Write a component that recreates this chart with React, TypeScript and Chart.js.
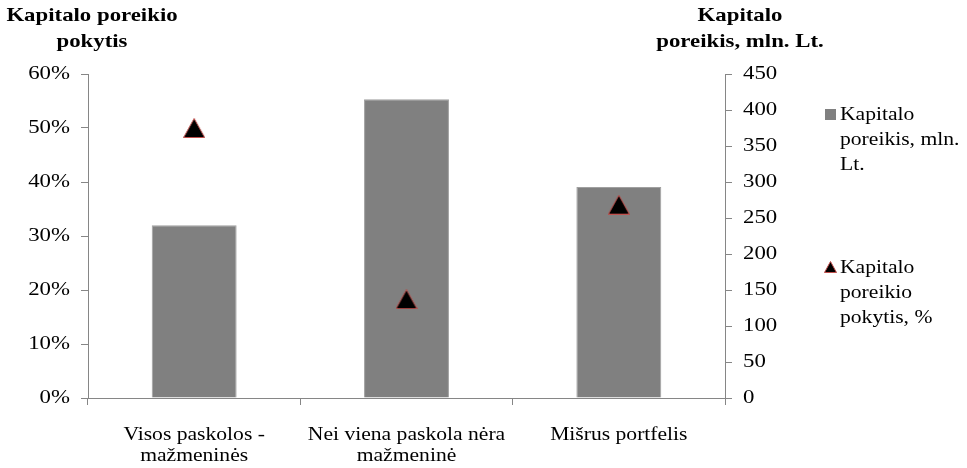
import React, { useEffect, useRef } from "react";
import { Chart, registerables } from "chart.js";

Chart.register(...registerables);

const categories: string[][] = [
  ["Visos paskolos -", "mažmeninės"],
  ["Nei viena paskola nėra", "mažmeninė"],
  ["Mišrus portfelis"],
];
const capitalNeed = [240, 415, 293];
const capitalChange = [50, 18.3, 35.8];
const leftTicks = [0, 10, 20, 30, 40, 50, 60];
const rightTicks = [0, 50, 100, 150, 200, 250, 300, 350, 400, 450];
const barLabel = ["Kapitalo", "poreikis, mln.", "Lt."];
const pointLabel = ["Kapitalo", "poreikio", "pokytis, %"];
const leftTitle = ["Kapitalo poreikio", "pokytis"];
const rightTitle = ["Kapitalo", "poreikis, mln. Lt."];

const FONT = "'Liberation Serif', 'Times New Roman', serif";
const AXIS = "#868686";
const BAR = "#808080";
const TEXT_STRETCH = 1.2;

function makeTriangle(w: number, h: number): HTMLCanvasElement {
  const c = document.createElement("canvas");
  c.width = w;
  c.height = h;
  const ctx = c.getContext("2d")!;
  ctx.beginPath();
  ctx.moveTo(w / 2, 0.5);
  ctx.lineTo(w - 0.5, h - 0.5);
  ctx.lineTo(0.5, h - 0.5);
  ctx.closePath();
  ctx.fillStyle = "#000000";
  ctx.fill();
  ctx.strokeStyle = "#c0504d";
  ctx.lineWidth = 1;
  ctx.stroke();
  return c;
}

// text in the reference is rendered horizontally wider; stretch glyphs only
function stretchText(ctx: any) {
  if (ctx.__stretched) return;
  ctx.__stretched = true;
  const origFill = ctx.fillText.bind(ctx);
  const origMeasure = ctx.measureText.bind(ctx);
  ctx.fillText = (t: string, x: number, y: number) => {
    ctx.save();
    ctx.translate(x, y);
    ctx.scale(TEXT_STRETCH, 1);
    origFill(t, 0, 0);
    ctx.restore();
  };
  ctx.measureText = (t: string) => {
    const m = origMeasure(t);
    return {
      width: m.width * TEXT_STRETCH,
      actualBoundingBoxAscent: m.actualBoundingBoxAscent,
      actualBoundingBoxDescent: m.actualBoundingBoxDescent,
      actualBoundingBoxLeft: m.actualBoundingBoxLeft * TEXT_STRETCH,
      actualBoundingBoxRight: m.actualBoundingBoxRight * TEXT_STRETCH,
    };
  };
}

const overlay = {
  id: "overlay",
  afterDraw(chart: any) {
    const ctx = chart.ctx as CanvasRenderingContext2D;
    ctx.save();
    ctx.fillStyle = "#000";
    ctx.textBaseline = "middle";
    ctx.font = `bold 19px ${FONT}`;
    ctx.textAlign = "center";
    leftTitle.forEach((t, i) => ctx.fillText(t, 92, 16 + i * 26));
    rightTitle.forEach((t, i) => ctx.fillText(t, 740, 16 + i * 26));
    ctx.font = `18px ${FONT}`;
    ctx.textAlign = "left";
    ctx.fillStyle = BAR;
    ctx.fillRect(825, 109, 11, 11);
    ctx.fillStyle = "#000";
    barLabel.forEach((t, i) => ctx.fillText(t, 840, 115 + i * 25));
    const tri = makeTriangle(13, 12);
    ctx.drawImage(tri, 824, 261);
    pointLabel.forEach((t, i) => ctx.fillText(t, 840, 268 + i * 25));
    ctx.restore();
  },
};

export default function App() {
  const ref = useRef<HTMLCanvasElement>(null);
  useEffect(() => {
    if (!ref.current) return;
    stretchText(ref.current.getContext("2d"));
    const tri = makeTriangle(22, 20);
    const chart = new Chart(ref.current, {
      type: "bar",
      data: {
        labels: categories,
        datasets: [
          {
            type: "line",
            label: pointLabel.join(" "),
            data: capitalChange,
            yAxisID: "y",
            showLine: false,
            pointStyle: tri as any,
            pointRadius: 11,
            borderColor: "#c0504d",
            backgroundColor: "#000",
            order: 0,
          } as any,
          {
            type: "bar",
            label: barLabel.join(" "),
            data: capitalNeed,
            yAxisID: "y1",
            backgroundColor: BAR,
            borderColor: "#a0a0a0",
            borderWidth: 1,
            categoryPercentage: 1,
            barPercentage: 0.4,
            order: 1,
          },
        ],
      },
      options: {
        responsive: false,
        animation: false,
        layout: { padding: { top: 74, right: 167, left: 0, bottom: 0 } },
        plugins: {
          legend: { display: false },
          tooltip: { enabled: false },
          title: { display: false },
        },
        scales: {
          x: {
            offset: true,
            grid: {
              offset: true,
              drawOnChartArea: false,
              drawTicks: true,
              tickLength: 7,
              color: AXIS,
            },
            border: { color: AXIS },
            ticks: {
              color: "#000",
              font: { family: FONT, size: 18, lineHeight: 1.2 },
              padding: 19,
              maxRotation: 0,
              autoSkip: false,
            },
            afterFit(scale: any) {
              scale.height = 70;
            },
          },
          y: {
            position: "left",
            min: 0,
            max: 60,
            afterBuildTicks(scale: any) {
              scale.ticks = leftTicks.map((v) => ({ value: v }));
            },
            grid: {
              drawOnChartArea: false,
              drawTicks: true,
              tickLength: 7,
              color: AXIS,
            },
            border: { color: AXIS },
            ticks: {
              color: "#000",
              font: { family: FONT, size: 19 },
              padding: 11,
              callback: (v: any) => `${v}%`,
            },
            afterFit(scale: any) {
              scale.width = 88;
            },
          },
          y1: {
            position: "right",
            min: 0,
            max: 450,
            afterBuildTicks(scale: any) {
              scale.ticks = rightTicks.map((v) => ({ value: v }));
            },
            grid: {
              drawOnChartArea: false,
              drawTicks: true,
              tickLength: 7,
              color: AXIS,
            },
            border: { color: AXIS },
            ticks: {
              color: "#000",
              font: { family: FONT, size: 19 },
              padding: 11,
            },
            afterFit(scale: any) {
              scale.width = 75;
            },
          },
        },
      },
      plugins: [overlay],
    });
    return () => chart.destroy();
  }, []);
  return (
    <div style={{ position: "absolute", left: 0, top: 0, width: 967, height: 468, background: "#fff" }}>
      <canvas ref={ref} width={967} height={468} style={{ display: "block", width: 967, height: 468 }} />
    </div>
  );
}
